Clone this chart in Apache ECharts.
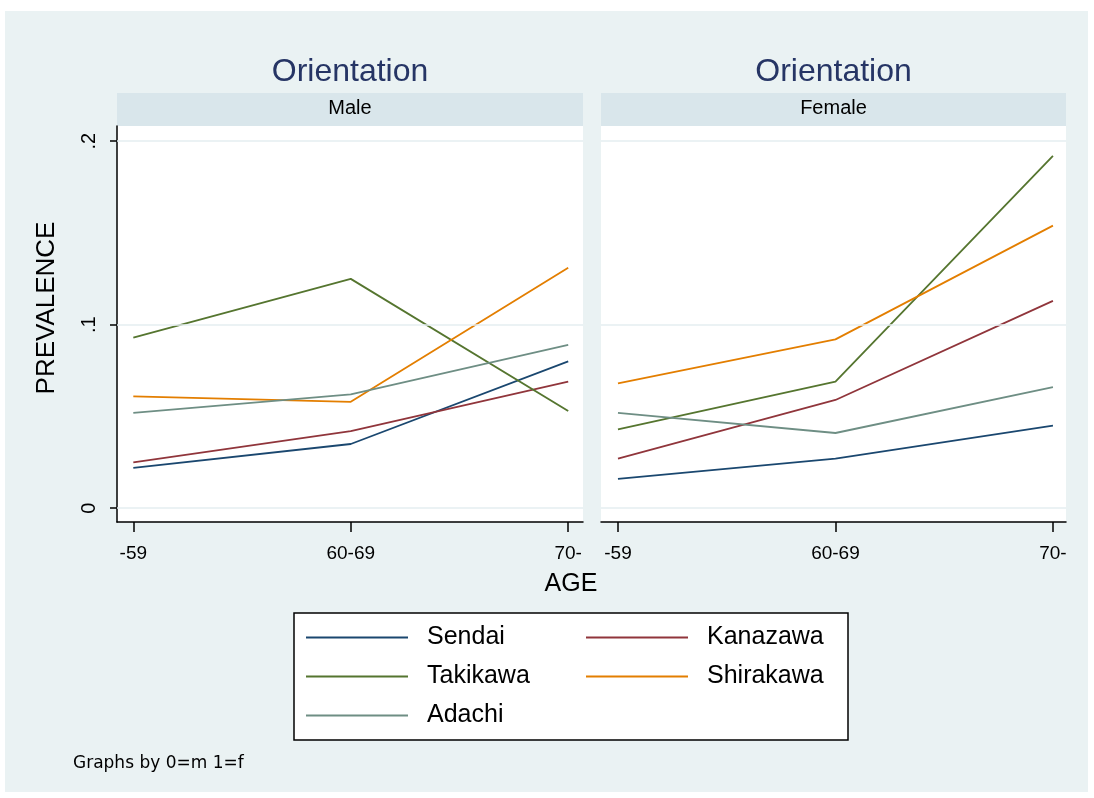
<!DOCTYPE html>
<html>
<head>
<meta charset="utf-8">
<script src="https://cdn.jsdelivr.net/npm/echarts@6/dist/echarts.min.js"></script>
<style>
  html, body { margin: 0; padding: 0; background: #ffffff; }
  #wrap { position: relative; width: 1094px; height: 798px; background: #ffffff; }
  #bg { position: absolute; left: 5px; top: 11px; width: 1083px; height: 781px; background: #eaf2f3; }
  #chart { position: absolute; left: 0; top: 0; width: 1094px; height: 798px; }
</style>
</head>
<body>
<div id="wrap"><div id="bg"></div><div id="chart"></div></div>
<script>
// ---- data ----
const ageGroups = ['-59', '60-69', '70-'];
const cityNames = ['Sendai', 'Kanazawa', 'Takikawa', 'Shirakawa', 'Adachi'];
const panelNames = ['Male', 'Female'];

const maleSendai    = [0.022, 0.035, 0.080];
const maleKanazawa  = [0.025, 0.042, 0.069];
const maleTakikawa  = [0.093, 0.125, 0.053];
const maleShirakawa = [0.061, 0.058, 0.131];
const maleAdachi    = [0.052, 0.062, 0.089];

const femaleSendai    = [0.016, 0.027, 0.045];
const femaleKanazawa  = [0.027, 0.059, 0.113];
const femaleTakikawa  = [0.043, 0.069, 0.192];
const femaleShirakawa = [0.068, 0.092, 0.154];
const femaleAdachi    = [0.052, 0.041, 0.066];

const yTickValues = [0, 0.1, 0.2];
const yTickLabels = ['0', '.1', '.2'];
const xTickValues = [0, 1, 2];

// ---- styles ----
const cityColors = ['#1a476f', '#90353b', '#55752f', '#e37e00', '#6e8e84'];
const FONT = 'Liberation Sans, Arial, sans-serif';

const panelValues = [
  [maleSendai, maleKanazawa, maleTakikawa, maleShirakawa, maleAdachi],
  [femaleSendai, femaleKanazawa, femaleTakikawa, femaleShirakawa, femaleAdachi]
];

const panelLayout = [
  { grid: { left: 117, top: 126, width: 466, height: 396 }, xMin: -0.075, xMax: 2.068, center: 350 },
  { grid: { left: 601, top: 126, width: 465, height: 396 }, xMin: -0.078, xMax: 2.060, center: 833.5 }
];

const grids = [], xAxes = [], yAxes = [], series = [], titles = [], graphics = [];

panelLayout.forEach((p, i) => {
  grids.push(Object.assign({ show: true, backgroundColor: '#ffffff', borderWidth: 0 }, p.grid));
  xAxes.push({
    type: 'value', gridIndex: i, min: p.xMin, max: p.xMax,
    axisLine: { show: true, onZero: false, lineStyle: { color: '#000', width: 1.5 } },
    axisTick: { show: true, customValues: xTickValues, length: 10, lineStyle: { color: '#000', width: 1.5 } },
    axisLabel: { customValues: xTickValues, formatter: v => ageGroups[Math.round(v)], fontSize: 19, color: '#000', margin: 22, fontFamily: FONT },
    splitLine: { show: false }
  });
  yAxes.push({
    type: 'value', gridIndex: i, min: -0.0075, max: 0.2083,
    axisLine: { show: i === 0, onZero: false, lineStyle: { color: '#000', width: 1.5 } },
    axisTick: { show: i === 0, customValues: yTickValues, length: 7, lineStyle: { color: '#000', width: 1.5 } },
    axisLabel: { show: i === 0, customValues: yTickValues, rotate: 90, fontSize: 20, color: '#000', margin: 18, fontFamily: FONT,
      formatter: v => { const k = yTickValues.findIndex(t => Math.abs(t - v) < 1e-9); return k >= 0 ? yTickLabels[k] : ''; } },
    splitLine: { show: false }
  });
  // grid lines
  series.push({
    type: 'line', xAxisIndex: i, yAxisIndex: i, data: [], z: 1, silent: true,
    markLine: {
      silent: true, symbol: ['none', 'none'], label: { show: false },
      lineStyle: { color: '#e4eef1', width: 1.5, type: 'solid' },
      emphasis: { disabled: true },
      data: yTickValues.map(v => ({ yAxis: v }))
    }
  });
  cityNames.forEach((name, c) => {
    series.push({
      name: name, type: 'line', xAxisIndex: i, yAxisIndex: i, z: 3,
      data: panelValues[i][c].map((v, k) => [k, v]),
      symbol: 'none', color: cityColors[c],
      lineStyle: { width: 1.8, color: cityColors[c] },
      emphasis: { disabled: true }
    });
  });
  titles.push({
    text: 'Orientation', left: p.center, top: 56, textAlign: 'center', padding: 0,
    textStyle: { fontSize: 32, fontWeight: 'normal', color: '#263565', fontFamily: FONT }
  });
  titles.push({
    text: panelNames[i], left: p.center, top: 98, textAlign: 'center', padding: 0,
    textStyle: { fontSize: 20, fontWeight: 'normal', color: '#000', fontFamily: FONT }
  });
  graphics.push({
    type: 'rect', z: 0,
    shape: { x: p.grid.left, y: 93, width: p.grid.width, height: 33 },
    style: { fill: '#d9e6eb' }
  });
});

titles.push({
  text: 'AGE', left: 571, top: 572, textAlign: 'center', padding: 0,
  textStyle: { fontSize: 25, fontWeight: 'normal', color: '#000', fontFamily: FONT }
});
titles.push({
  text: 'Graphs by 0=m 1=f', left: 73, top: 755, padding: 0,
  textStyle: { fontSize: 17, fontWeight: 'normal', color: '#000', fontFamily: 'DejaVu Sans, sans-serif' }
});

graphics.push({
  type: 'text', x: 47, y: 308, rotation: Math.PI / 2, z: 5,
  style: { text: 'PREVALENCE', fontSize: 26, fontFamily: FONT, fill: '#000',
           align: 'center', verticalAlign: 'middle', textAlign: 'center', textVerticalAlign: 'middle' }
});
graphics.push({
  type: 'rect', z: 1,
  shape: { x: 294, y: 613, width: 554, height: 127 },
  style: { fill: '#ffffff', stroke: '#000', lineWidth: 1.5 }
});

const legendCommon = {
  orient: 'vertical', itemWidth: 102, itemHeight: 2, itemGap: 0, icon: 'rect',
  padding: 0, selectedMode: false, z: 10,
  textStyle: { fontSize: 25, lineHeight: 39, color: '#000', fontFamily: FONT, padding: [0, 0, 0, 14] }
};

const option = {
  animation: false,
  backgroundColor: 'transparent',
  color: cityColors,
  title: titles,
  grid: grids,
  xAxis: xAxes,
  yAxis: yAxes,
  legend: [
    Object.assign({}, legendCommon, { left: 306, top: 618, data: ['Sendai', 'Takikawa', 'Adachi'] }),
    Object.assign({}, legendCommon, { left: 586, top: 618, data: ['Kanazawa', 'Shirakawa'] })
  ],
  graphic: graphics,
  series: series
};

const chart = echarts.init(document.getElementById('chart'), null, { renderer: 'canvas' });
chart.setOption(option);
</script>
</body>
</html>
